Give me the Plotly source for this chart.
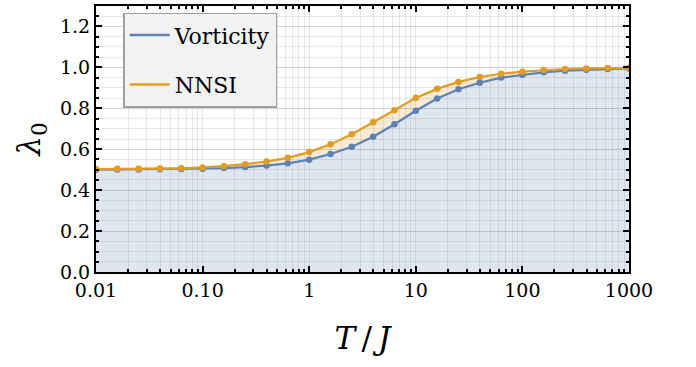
import numpy as np
import plotly.graph_objects as go

# Data
log_T = [-2.0, -1.8, -1.6, -1.4, -1.2, -1.0, -0.8, -0.6, -0.4, -0.2, 0.0, 0.2, 0.4,
         0.6, 0.8, 1.0, 1.2, 1.4, 1.6, 1.8, 2.0, 2.2, 2.4, 2.6, 2.8, 3.0]
T_over_J = [10 ** v for v in log_T]
vorticity = [0.500, 0.501, 0.501, 0.502, 0.503, 0.505, 0.508, 0.513, 0.520, 0.531, 0.549,
             0.577, 0.612, 0.661, 0.722, 0.788, 0.848, 0.893, 0.925, 0.950, 0.964, 0.976,
             0.984, 0.988, 0.992, 0.995]
nnsi = [0.503, 0.504, 0.504, 0.506, 0.507, 0.511, 0.517, 0.527, 0.540, 0.558, 0.586,
        0.624, 0.673, 0.732, 0.790, 0.851, 0.895, 0.929, 0.953, 0.969, 0.979, 0.987,
        0.992, 0.995, 0.997, 0.998]

x_tickvals = [0.01, 0.1, 1, 10, 100, 1000]
x_ticktext = ["0.01", "0.10", "1", "10", "100", "1000"]
y_tickvals = [0.0, 0.2, 0.4, 0.6, 0.8, 1.0, 1.2]
y_ticktext = ["0.0", "0.2", "0.4", "0.6", "0.8", "1.0", "1.2"]

BLUE = "#5E81B5"
ORANGE = "#E19C24"
FONT = "DejaVu Serif"

x_minor = [m * 10 ** d for d in range(-2, 3) for m in range(2, 10)]

fig = go.Figure()
fig.add_trace(go.Scatter(
    x=T_over_J, y=vorticity, mode="lines+markers",
    line=dict(color=BLUE, width=2.2), marker=dict(color=BLUE, size=6.5),
    fill="tozeroy", fillcolor="rgba(94,129,181,0.2)", showlegend=False))
fig.add_trace(go.Scatter(
    x=T_over_J, y=nnsi, mode="lines+markers",
    line=dict(color=ORANGE, width=2.2), marker=dict(color=ORANGE, size=6.5),
    fill="tonexty", fillcolor="rgba(225,156,36,0.2)", showlegend=False))
# legend entries
fig.add_trace(go.Scatter(x=[1e-5], y=[-1], mode="lines", name="Vorticity",
                         line=dict(color=BLUE, width=2.5), legendgroup="a"))
fig.add_trace(go.Scatter(x=[1e-5], y=[-1], mode="lines", name="NNSI",
                         line=dict(color=ORANGE, width=2.5), legendgroup="b"))

grid_col = "rgba(0,0,0,0.09)"
fig.update_xaxes(
    type="log", range=[-2, 3],
    tickmode="array", tickvals=x_tickvals, ticktext=x_ticktext,
    ticks="inside", ticklen=6, tickwidth=1.5, tickcolor="black",
    showline=True, linecolor="black", linewidth=2, mirror="allticks",
    showgrid=True, gridcolor=grid_col, gridwidth=1,
    minor=dict(tickmode="array", tickvals=x_minor, ticks="inside", ticklen=3,
               tickcolor="black", showgrid=True, gridcolor=grid_col, gridwidth=1),
    tickfont=dict(family=FONT, size=19, color="black"),
    title=dict(text="<i>T</i>\u2009/\u2009<i>J</i>", font=dict(family=FONT, size=31, color="black"),
               standoff=28),
    zeroline=False,
)
fig.update_yaxes(
    range=[0, 1.3],
    tickmode="array", tickvals=y_tickvals, ticktext=y_ticktext,
    ticks="inside", ticklen=6, tickwidth=1.5, tickcolor="black",
    showline=True, linecolor="black", linewidth=2, mirror="allticks",
    showgrid=True, gridcolor=grid_col, gridwidth=1,
    minor=dict(dtick=0.05, ticks="inside", ticklen=3, tickcolor="black",
               showgrid=True, gridcolor=grid_col, gridwidth=1),
    tickfont=dict(family=FONT, size=19, color="black"),
    title=dict(text="<i>λ</i><sub>0</sub>", font=dict(family=FONT, size=31, color="black"),
               standoff=10),
    zeroline=False,
)

fig.update_layout(
    width=696, height=367,
    margin=dict(l=96, r=67, t=4, b=95),
    paper_bgcolor="white", plot_bgcolor="white",
    font=dict(family=FONT),
    legend=dict(x=0.051, y=0.975, xanchor="left", yanchor="top",
                bgcolor="#f2f2f2", bordercolor="#a0a0a0", borderwidth=1.5,
                font=dict(family=FONT, size=22, color="black"),
                tracegroupgap=18, itemwidth=40,
                entrywidth=165, entrywidthmode="pixels"),
)

fig.write_html("out.html")
